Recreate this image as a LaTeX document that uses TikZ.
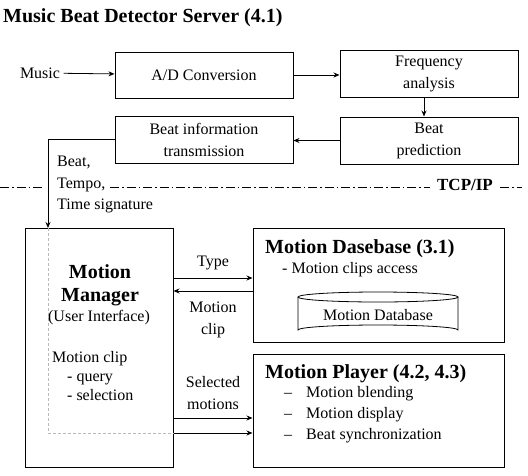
\documentclass[tikz,border=0pt]{standalone}
\usepackage{fontspec}
\setmainfont{Liberation Serif}
\usetikzlibrary{arrows.meta}
\tikzset{
  block/.style={draw,line width=1pt,inner sep=0pt},
  link/.style={line width=0.8pt,-{Stealth[length=6pt,width=5pt]}},
  title/.style={font=\fontsize{20}{23}\selectfont\bfseries,inner sep=0pt},
  netline/.style={line width=0.8pt,dash pattern=on 9pt off 3pt on 1.5pt off 3pt}
}
\begin{document}
\begin{tikzpicture}[x=1pt,y=-1pt,font=\fontsize{16}{22}\selectfont]
\useasboundingbox (0,0) rectangle (528,475);

\node[title,anchor=west] (server) at (3,18) {Music Beat Detector Server (4.1)};

\node (music) at (40,73) {Music};
\node[block,minimum width=178,minimum height=46] (ad) at (204,75) {A/D Conversion};
\node[block,minimum width=178,minimum height=47,align=center] (freq) at (429,73.5) {Frequency\\analysis};
\node[block,minimum width=178,minimum height=47,align=center] (pred) at (429,140.5) {Beat\\prediction};
\node[block,minimum width=178,minimum height=47,align=center] (info) at (204,139.5) {Beat information\\transmission};

\draw[link] (music) -- (ad);
\draw[link] (ad.east) -- (ad.east -| freq.west);
\draw[link] (freq.south -| 424,0) -- (pred.north -| 424,0);
\draw[link] (pred.west) -- (pred.west -| info.east);

% network border
\draw[netline] (0,187) -- (43,187);
\draw[netline] (110,187) -- (430,187);
\draw[netline] (500,187) -- (522,187);
\node[font=\fontsize{17}{20}\selectfont\bfseries] (tcp) at (465,185) {TCP/IP};

\node[align=left,anchor=north west,inner sep=0pt,font=\fontsize{16}{21.5}\selectfont] (beatinfo) at (57,156) {Beat,\\Tempo,\\Time signature};

\node[block,minimum width=148,minimum height=239] (mgr) at (99,347.5) {};
\coordinate (drop) at (48,228);
\draw[link] (info.west) -| (drop);
\draw[gray!55,line width=0.8pt,densely dashed] (drop) |- (mgr.east |- 0,433);

\node[title,align=center] (mgrname) at (100,285) {Motion\\Manager};
\node (ui) at (99,318) {(User Interface)};
\node[align=left,anchor=north west,inner sep=0pt,font=\fontsize{16}{19}\selectfont] (query) at (52,351) {Motion clip\\\hspace*{15pt}- query\\\hspace*{15pt}- selection};

\node[block,minimum width=251,minimum height=114] (dbase) at (378.5,285) {};
\node[title,anchor=west] (dbname) at (265,249) {Motion Dasebase (3.1)};
\node[anchor=west,inner sep=0pt] (access) at (282,270) {- Motion clips access};
\draw[line width=0.8pt] (298,297) -- (298,330) arc[start angle=180,end angle=360,x radius=80,y radius=5] -- (458,297);
\draw[line width=0.8pt] (378,297) ellipse[x radius=80,y radius=5];
\node (db) at (378,315) {Motion Database};

\node[block,minimum width=251,minimum height=113] (player) at (378.5,410.5) {};
\node[title,anchor=west] (plname) at (265,374) {Motion Player (4.2, 4.3)};
\node[align=left,anchor=north west,inner sep=0pt,font=\fontsize{16}{21}\selectfont] (tasks) at (284,386) {\makebox[22pt][l]{--}Motion blending\\\makebox[22pt][l]{--}Motion display\\\makebox[22pt][l]{--}Beat synchronization};

\draw[link] (mgr.east |- 0,278) -- (dbase.west |- 0,278);
\draw[link] (dbase.west |- 0,291) -- (mgr.east |- 0,291);
\draw[link] (mgr.east |- 0,418) -- (player.west |- 0,418);
\draw[link] (mgr.east |- 0,433) -- (player.west |- 0,433);
\node (type) at (213,263) {Type};
\node[align=center] (clip) at (213,320) {Motion\\clip};
\node[align=center] (sel) at (213,393) {Selected\\motions};
\end{tikzpicture}
\end{document}
